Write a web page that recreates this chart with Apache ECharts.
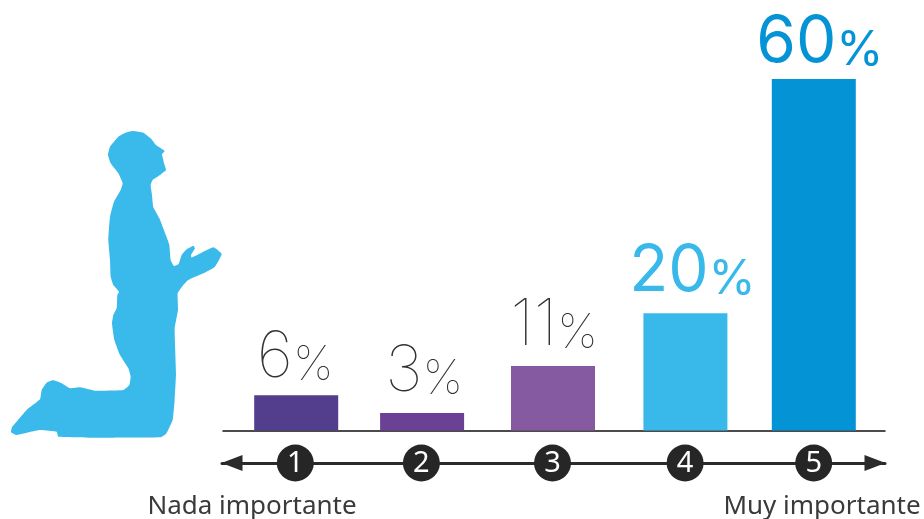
<!DOCTYPE html>
<html><head><meta charset="utf-8">
<script src="https://cdn.jsdelivr.net/npm/echarts@6/dist/echarts.min.js"></script>
<style>html,body{margin:0;padding:0;background:#fff}#c{width:924px;height:519px}</style></head>
<body><div id="c"></div>
<script>
const categories = ['1','2','3','4','5'];
const values = [6,3,11,20,60];
const scaleEnds = ['Nada importante','Muy importante'];

// styling and layout, separate from the data
const barColors = ['#523e8c','#6a4194','#855aa1','#39b9ea','#0494d6'];
const labelColors = ['#333333','#333333','#333333','#39b9ea','#0494d6'];
const labelWeights = [100,100,100,400,400];
const slotNudge = [7,0.5,-1,-1,-5];
const labelNudgeX = [-1,2,1,7,6];
const labelNudgeY = [-6,-9,-8,-10,-4];

const outline = [[400,33],[430,38],[452,55],[468,75],[494,93],[486,103],[490,120],[492,130],[498,150],[480,165],[458,180],[452,195],[456,225],[460,262],[478,295],[500,352],[508,375],[512,420],[522,438],[536,432],[545,405],[560,388],[580,377],[585,385],[573,405],[575,413],[640,382],[665,402],[645,440],[610,460],[565,480],[550,495],[533,520],[534,570],[524,625],[528,760],[524,840],[518,900],[498,942],[480,952],[300,953],[175,950],[170,935],[120,930],[48,945],[33,937],[36,922],[80,870],[120,838],[125,810],[140,788],[160,781],[185,790],[210,805],[240,802],[285,812],[370,810],[388,795],[392,770],[385,745],[360,705],[343,660],[336,610],[340,585],[350,565],[352,525],[357,515],[340,495],[332,470],[330,420],[325,360],[330,290],[342,245],[362,210],[368,190],[355,160],[332,130],[324,105],[330,80],[355,50],[380,37]]
  .map(p => [p[0]/3, p[1]/3 + 120]);

const chart = echarts.init(document.getElementById('c'), null, {renderer:'canvas'});
const BIG = 64, SMALL = 48;
chart.setOption({
  animation:false,
  backgroundColor:'#fff',
  grid:[
    {left:223, width:662, top:79, height:351.5},
    {left:222, width:663, top:462, height:1}
  ],
  xAxis:[
    {gridIndex:0, type:'category', data:categories, axisTick:{show:false}, axisLabel:{show:false},
     axisLine:{lineStyle:{color:'#111',width:1.5}}},
    {gridIndex:1, type:'category', data:categories, axisTick:{show:false}, axisLabel:{show:false},
     axisLine:{symbol:['triangle','triangle'], symbolSize:[16,21], symbolOffset:[10,-10],
       lineStyle:{color:'#2b2b2b',width:3}}}
  ],
  yAxis:[
    {gridIndex:0, type:'value', min:0, max:60, show:false},
    {gridIndex:1, type:'value', min:0, max:1, show:false}
  ],
  series:[
    {type:'custom', xAxisIndex:0, yAxisIndex:0, coordinateSystem:'cartesian2d',
     data:values.map((v,i)=>[i,v]), encode:{x:0,y:1}, clip:false,
     renderItem(params, api){
       const i = api.value(0), v = api.value(1);
       const top = api.coord([i,v]), base = api.coord([i,0]);
       const cx = top[0] + slotNudge[i];
       return {type:'group', children:[
         {type:'rect', shape:{x:cx-42, y:top[1], width:84, height:base[1]-top[1]}, style:{fill:barColors[i]}},
         {type:'text', x:cx+labelNudgeX[i], y:top[1]+labelNudgeY[i], style:{
           text:'{n|'+v+'}{p|%}', align:'center', verticalAlign:'bottom',
           rich:{
             n:{fontFamily:'Inter', fontWeight:labelWeights[i], fontSize:BIG, fill:labelColors[i], lineHeight:76, verticalAlign:'bottom'},
             p:{fontFamily:'Inter', fontWeight:labelWeights[i], fontSize:SMALL, fill:labelColors[i], lineHeight:76, verticalAlign:'bottom'}
           }}}
       ]};
     }},
    {type:'custom', xAxisIndex:1, yAxisIndex:1, coordinateSystem:'cartesian2d',
     data:categories.map((c,i)=>[i,0,c]), encode:{x:0,y:1}, clip:false,
     renderItem(params, api){
       const i = api.value(0);
       const p = api.coord([i,0]);
       const cx = p[0] + slotNudge[i];
       return {type:'group', children:[
         {type:'circle', shape:{cx:cx, cy:p[1], r:18.5}, style:{fill:'#262626'}},
         {type:'text', x:cx, y:p[1]+1, style:{text:categories[i], fill:'#fff', fontFamily:'Noto Sans', fontSize:29, align:'center', verticalAlign:'middle'}}
       ]};
     }}
  ],
  graphic:[
    {type:'polygon', shape:{points:outline, smooth:0.12}, style:{fill:'#3abaea'}, silent:true},
    {type:'text', x:252, y:507, style:{text:scaleEnds[0], fill:'#3a3a3a', fontFamily:'Noto Sans', fontSize:26, align:'center', verticalAlign:'middle'}},
    {type:'text', x:822, y:507, style:{text:scaleEnds[1], fill:'#3a3a3a', fontFamily:'Noto Sans', fontSize:26, align:'center', verticalAlign:'middle'}}
  ]
});
</script></body></html>
